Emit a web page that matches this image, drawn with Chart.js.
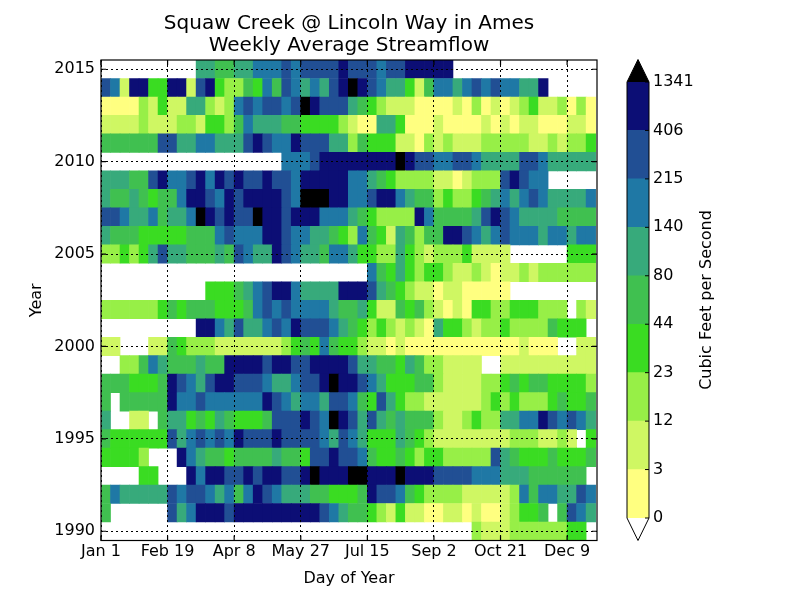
<!DOCTYPE html>
<html>
<head>
<meta charset="utf-8">
<title>Squaw Creek weekly streamflow</title>
<script src="https://cdn.jsdelivr.net/npm/chart.js@4.4.1/dist/chart.umd.min.js"></script>
<style>
  html, body { margin:0; padding:0; background:#ffffff; }
  #wrap { position:relative; width:800px; height:600px; overflow:hidden; }
  canvas { position:absolute; left:0; top:0; }
</style>
</head>
<body>
<div id="wrap">
<canvas id="heat" width="800" height="600"></canvas>
<canvas id="cbar" width="800" height="600"></canvas>
</div>
<script>
// ---------------- data ----------------
const years = [2015,2014,2013,2012,2011,2010,2009,2008,2007,2006,2005,2004,2003,
               2002,2001,2000,1999,1998,1997,1996,1995,1994,1993,1992,1991,1990];

// one character per week (52 weeks): colour class 0..9, "." = no data
const weekLevels = [
  ".........." + "5544556667677778" + "77767788888" + "....." + "....." + ".....",          // 2015
  "76188338817832243647656578" + "98765531466567676655" + "8" + ".....",                   // 2014
  "00002131155212676776798777" + "54321110000102010123112020",                             // 2013
  "11112111221332465554433332" + "10055300010000101011000110",                             // 2012
  "44444477556655578766877755" + "24333110212111222221121223",                             // 2011
  ".........." + "........." + "6667888" + "88888987766776555577655555",                    // 2010
  "55544786678687877877688888" + "665432222110122278766" + ".....",                         // 2009
  "54454344688768788887699988" + "66788654423223456567655556",                             // 2008
  "77655645569878779887888666" + "54322228644445787655554444",                             // 2007
  "54443333344467666887665543" + "26431542448876567666566566",                             // 2006
  "22323575544454765587655466" + "53322532122231111" + "......" + "333",                    // 2005
  ".........." + ".........." + "......" + ".." + "643532332112101121222222",               // 2004
  ".........." + "." + "333456788655558" + "88754321101100000" + ".........",              // 2003
  "22222234344433346767666654" + "45311434210103322333222" + "." + "21",                    // 2002
  ".........." + "8865755676877765" + "4323212105332122322224333" + ".",                    // 2001
  "11" + "..." + "114322211111112343643" + "3211010000000000001000" + ".." + "11",          // 2000
  ".." + "224654445448888788778888" + "75544354221111" + ".." + "1111111111",              // 1999
  "44433348765788777655677898" + "87653334421111223434433332",                             // 1998
  "4" + "." + "444448667666666876566577" + "64375322111111232322234334",                    // 1997
  "5" + ".." + "11" + "." + "45534354333477787698" + "75754544421123225566876765",          // 1996
  "43333337567676877787777657" + "653335432111111112221121" + "." + "3",                    // 1995
  "33332" + "..." + "865443444454437787" + "76433432332222275433343334",                    // 1994
  "...." + "33" + "..." + "86887787887789888" + "9988898887777666555444444" + ".",          // 1993
  "46555557677656468765554433" + "34877643222211111264665576",                             // 1992
  "4" + "......" + "7568887888888888765" + "443213110011010012334" + "." + "4765",          // 1991
  ".........." + ".........." + "......" + ".........." + "..." + "211122222233" + "."       // 1990
];

const binEdges = [0, 3, 12, 23, 44, 80, 140, 215, 406, 1341];           // cfs colour bounds
const levelFlow = [1.5, 7, 17, 33, 60, 110, 175, 300, 800, 1600];       // representative cfs per class
const levelColors = ['#FFFF80','#CFF763','#97EF47','#3ADC22','#40C050',
                     '#37AA7B','#1F78A5','#214F94','#0C0E75','#000000'];
const dayTicks = [0, 49, 98, 147, 196, 245, 294, 343];
const dayTickLabels = ['Jan 1','Feb 19','Apr 8','May 27','Jul 15','Sep 2','Oct 21','Dec 9'];
const yearTicks = [1990, 1995, 2000, 2005, 2010, 2015];
const daysPerWeek = 7;
const titleLines = ['Squaw Creek @ Lincoln Way in Ames', 'Weekly Average Streamflow'];
const colorbarLabel = 'Cubic Feet per Second';

// ---------------- helpers ----------------
function colorFor(v) {
  let i = 0;
  while (i < binEdges.length && v >= binEdges[i]) i++;
  return levelColors[Math.max(0, i - 1)];
}

const cells = [];
years.forEach((yr, r) => {
  const row = weekLevels[r];
  for (let w = 0; w < row.length; w++) {
    const c = row[w];
    if (c === '.') continue;
    cells.push({ x: [w * daysPerWeek, (w + 1) * daysPerWeek], y: yr, v: levelFlow[+c] });
  }
});

Chart.defaults.font.family = "'DejaVu Sans', 'Liberation Sans', sans-serif";
Chart.defaults.font.size = 16;
Chart.defaults.color = '#000';

const framePlugin = {
  id: 'frame',
  afterDraw(chart) {
    const { ctx, chartArea: a, scales: { x, y } } = chart;
    ctx.save();
    ctx.strokeStyle = '#000';
    ctx.lineWidth = 1.2;
    ctx.strokeRect(a.left, a.top, a.right - a.left, a.bottom - a.top);
    ctx.beginPath();
    dayTicks.forEach(d => {
      const px = x.getPixelForValue(d);
      ctx.moveTo(px, a.bottom); ctx.lineTo(px, a.bottom - 5);
      ctx.moveTo(px, a.top); ctx.lineTo(px, a.top + 5);
    });
    yearTicks.forEach(v => {
      const py = y.getPixelForValue(v);
      ctx.moveTo(a.left, py); ctx.lineTo(a.left + 5, py);
      ctx.moveTo(a.right, py); ctx.lineTo(a.right - 5, py);
    });
    ctx.stroke();
    ctx.restore();
  }
};

new Chart(document.getElementById('heat'), {
  type: 'bar',
  data: {
    datasets: [{
      data: cells,
      backgroundColor: ctx => colorFor(ctx.raw ? ctx.raw.v : 0),
      borderWidth: 0,
      barPercentage: 1,
      categoryPercentage: 1
    }]
  },
  options: {
    indexAxis: 'y',
    responsive: false,
    animation: false,
    devicePixelRatio: 1,
    events: [],
    layout: { padding: { left: 0, right: 203, top: 0, bottom: 0 } },
    plugins: {
      legend: { display: false },
      tooltip: { enabled: false },
      title: {
        display: true,
        fullSize: false,
        text: titleLines,
        color: '#000',
        font: { size: 20, weight: 'normal', lineHeight: 1.1 },
        padding: { top: 13, bottom: 3 }
      }
    },
    scales: {
      x: {
        type: 'linear', min: 0, max: 365, bounds: 'data', position: 'bottom',
        afterBuildTicks: s => { s.ticks = dayTicks.map(v => ({ value: v })); },
        afterFit: s => { s.height = 59.5; },
        ticks: {
          autoSkip: false, maxRotation: 0, minRotation: 0, padding: 2,
          callback: v => dayTickLabels[dayTicks.indexOf(v)]
        },
        title: { display: true, text: 'Day of Year', font: { size: 16 }, padding: { top: 0, bottom: 12 } },
        grid: { color: '#000', lineWidth: 1, z: 1, drawTicks: false },
        border: { display: false, dash: [2, 3] }
      },
      y: {
        type: 'linear', min: 1989.5, max: 2015.5, bounds: 'data', offset: false,
        afterBuildTicks: s => { s.ticks = yearTicks.map(v => ({ value: v })); },
        afterFit: s => { s.width = 101; },
        ticks: { autoSkip: false, padding: 6, callback: v => String(v) },
        title: { display: true, text: 'Year', font: { size: 16 }, padding: { top: 27, bottom: 0 } },
        grid: { color: '#000', lineWidth: 1, z: 1, drawTicks: false, offset: false },
        border: { display: false, dash: [2, 3] }
      }
    }
  },
  plugins: [framePlugin]
});

// ---------------- colour bar ----------------
const cbarPlugin = {
  id: 'cbarExtras',
  afterDatasetsDraw(chart) {
    const { ctx, chartArea: a } = chart;
    const mid = (a.left + a.right) / 2, h = 22.5;
    ctx.save();
    ctx.beginPath();
    ctx.moveTo(a.left, a.top); ctx.lineTo(mid, a.top - h); ctx.lineTo(a.right, a.top); ctx.closePath();
    ctx.fillStyle = levelColors[9]; ctx.fill();
    ctx.beginPath();
    ctx.moveTo(a.left, a.bottom); ctx.lineTo(mid, a.bottom + h); ctx.lineTo(a.right, a.bottom); ctx.closePath();
    ctx.fillStyle = '#ffffff'; ctx.fill();
    ctx.beginPath();
    ctx.moveTo(a.left, a.top); ctx.lineTo(mid, a.top - h); ctx.lineTo(a.right, a.top);
    ctx.lineTo(a.right, a.bottom); ctx.lineTo(mid, a.bottom + h); ctx.lineTo(a.left, a.bottom);
    ctx.closePath();
    ctx.strokeStyle = '#000'; ctx.lineWidth = 1; ctx.stroke();
    const ys = chart.scales.y;
    ctx.beginPath();
    binEdges.forEach((e, i) => {
      const py = ys.getPixelForValue(i);
      ctx.moveTo(a.right - 4, py); ctx.lineTo(a.right, py);
    });
    ctx.stroke();
    ctx.translate(a.right + 57.5, (a.top + a.bottom) / 2);
    ctx.rotate(-Math.PI / 2);
    ctx.font = "16px 'DejaVu Sans', sans-serif";
    ctx.fillStyle = '#000';
    ctx.textAlign = 'center';
    ctx.textBaseline = 'middle';
    ctx.fillText(colorbarLabel, 0, 0);
    ctx.restore();
  }
};

new Chart(document.getElementById('cbar'), {
  type: 'bar',
  data: {
    labels: ['cfs'],
    datasets: levelColors.slice(0, 9).map(c => ({
      data: [1], backgroundColor: c, borderWidth: 0, barPercentage: 1, categoryPercentage: 1
    }))
  },
  options: {
    responsive: false,
    animation: false,
    devicePixelRatio: 1,
    events: [],
    layout: { padding: { left: 627, right: 0, top: 82, bottom: 82 } },
    plugins: { legend: { display: false }, tooltip: { enabled: false }, title: { display: false } },
    scales: {
      x: { stacked: true, display: false },
      y: {
        stacked: true, position: 'right', min: 0, max: 9, bounds: 'data',
        afterBuildTicks: s => { s.ticks = binEdges.map((e, i) => ({ value: i })); },
        afterFit: s => { s.width = 151; },
        ticks: { autoSkip: false, padding: 4, callback: v => String(binEdges[v]) },
        grid: { display: false, drawTicks: false },
        border: { display: false }
      }
    }
  },
  plugins: [cbarPlugin]
});
</script>
</body>
</html>
